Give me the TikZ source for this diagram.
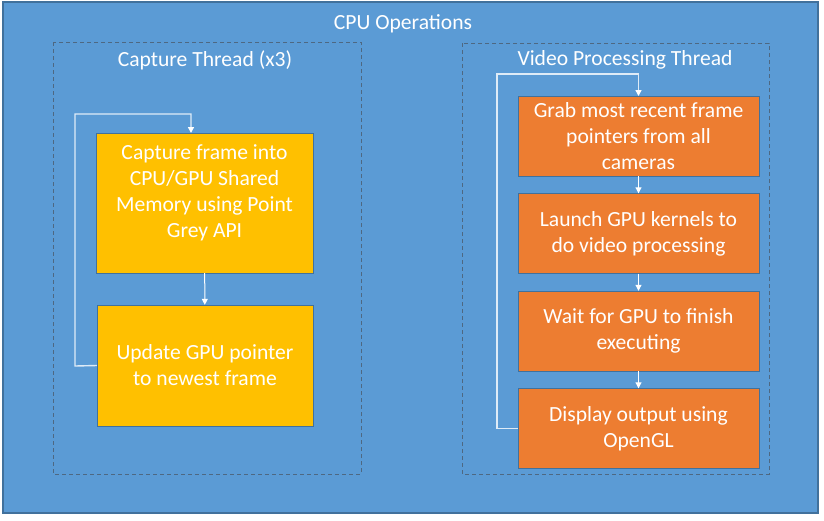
\documentclass[tikz,border=0pt]{standalone}
\usepackage{fontspec}
\setmainfont{Carlito}
\usetikzlibrary{arrows.meta, shapes.misc, calc}

\definecolor{cpublue}{RGB}{91,155,213}
\definecolor{cpuedge}{RGB}{65,113,156}
\definecolor{capyellow}{RGB}{255,192,0}
\definecolor{vidorange}{RGB}{237,125,49}
\definecolor{dashgray}{RGB}{78,104,130}
\definecolor{loopwhite}{RGB}{222,235,247}

\tikzset{
  txt/.style={text=white, font=\fontsize{21.6}{26}\selectfont, align=center},
  capbox/.style={txt, shape=rectangle, draw=cpuedge, fill=capyellow, inner sep=0pt},
  vidbox/.style={txt, shape=rectangle, draw=cpuedge, fill=vidorange, inner sep=0pt,
    minimum width=241pt, minimum height=80pt},
  flow/.style={draw=white, line width=1pt, -{Triangle[length=6pt,width=6pt]}},
  backloop/.style={draw=loopwhite, line width=1.4pt, -{Triangle[length=6pt,width=6pt,color=white]}}
}

\begin{document}
\begin{tikzpicture}[x=1pt,y=-1pt]
\useasboundingbox (0,0) rectangle (824,520);
\draw[draw=cpuedge, fill=cpublue, line width=1.2pt] (3,2) rectangle (818,513);
\draw[draw=dashgray, dash pattern=on 4pt off 3pt, line width=0.8pt] (53,42) rectangle (361,474);
\draw[draw=dashgray, dash pattern=on 4pt off 3pt, line width=0.8pt] (462,43) rectangle (769,474);

\node[txt] (CPU) at (403,24) {CPU Operations};
\node[txt] (CapT) at (205,60) {Capture Thread (x3)};
\node[txt] (VidT) at (625,60) {Video Processing Thread};

\node[capbox, minimum width=217pt, minimum height=140pt] (Cap) at (204.5,203) {Capture frame into\\CPU/GPU Shared\\Memory using Point\\Grey API\\[-10pt] \strut};
\node[capbox, minimum width=216pt, minimum height=121pt] (Upd) at (205,365.5) {Update GPU pointer\\to newest frame};

\node[vidbox] (Grab) at (638.5,136) {Grab most recent frame\\pointers from all\\cameras};
\node[vidbox] (Launch) at (638.5,233.5) {Launch GPU kernels to\\do video processing};
\node[vidbox] (Wait) at (638.5,331) {Wait for GPU to finish\\executing};
\node[vidbox] (Disp) at (638.5,428.5) {Display output using\\OpenGL};

\coordinate (CapIn) at (191,133);
\coordinate (GrabIn) at (638.5,96);

% capture loop
\draw[flow] (Cap) -- (Upd);
\draw[backloop] (Upd.west) -- (75,366) -- (75,114) -- (191,114) -- (CapIn);

% video loop
\draw[flow] (Grab) -- (Launch);
\draw[flow] (Launch) -- (Wait);
\draw[flow] (Wait) -- (Disp);
\draw[backloop] (Disp.west) -- (497,428.5) -- (497,74) -- (638.5,74) -- (GrabIn);

\end{tikzpicture}
\end{document}
